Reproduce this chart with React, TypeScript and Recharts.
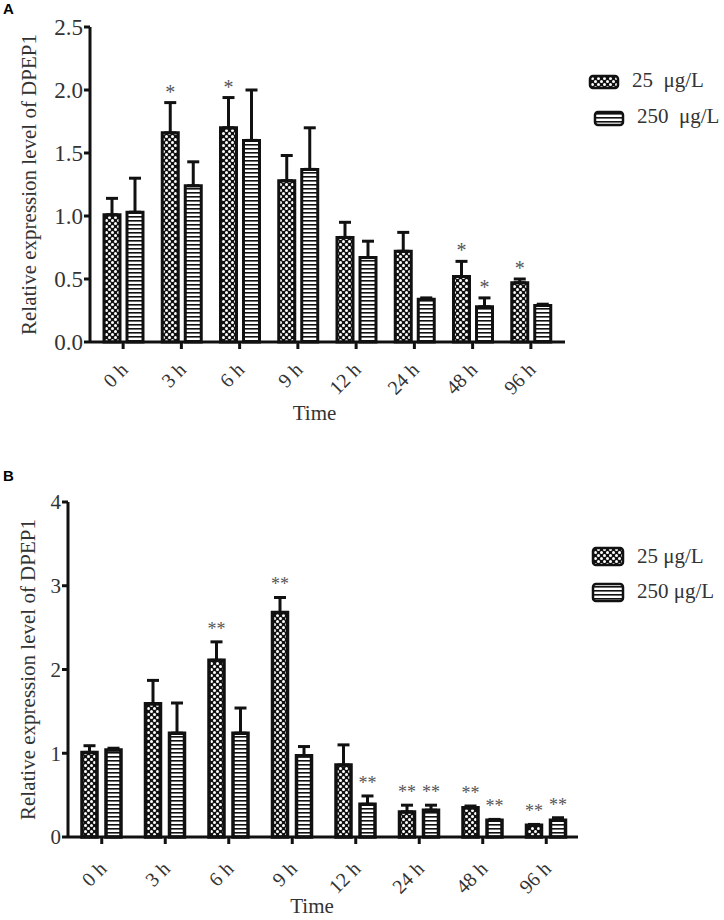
import { Bar, BarChart, ErrorBar, LabelList, XAxis, YAxis } from "recharts"

const timePoints = ["0 h", "3 h", "6 h", "9 h", "12 h", "24 h", "48 h", "96 h"]

// panel A
const aLow = [1.01, 1.66, 1.7, 1.28, 0.83, 0.72, 0.52, 0.47]
const aLowErr = [0.13, 0.24, 0.24, 0.2, 0.12, 0.15, 0.12, 0.03]
const aLowStars = ["", "*", "*", "", "", "", "*", "*"]
const aHigh = [1.03, 1.24, 1.6, 1.37, 0.67, 0.34, 0.28, 0.29]
const aHighErr = [0.27, 0.19, 0.4, 0.33, 0.13, 0.01, 0.07, 0.01]
const aHighStars = ["", "", "", "", "", "", "*", ""]
const aTicks = [0, 0.5, 1, 1.5, 2, 2.5]

// panel B
const bLow = [1.01, 1.59, 2.11, 2.68, 0.86, 0.3, 0.35, 0.14]
const bLowErr = [0.08, 0.28, 0.22, 0.18, 0.24, 0.08, 0.02, 0.01]
const bLowStars = ["", "", "**", "**", "", "**", "**", "**"]
const bHigh = [1.04, 1.24, 1.24, 0.97, 0.39, 0.32, 0.2, 0.2]
const bHighErr = [0.02, 0.36, 0.3, 0.11, 0.1, 0.06, 0.01, 0.03]
const bHighStars = ["", "", "", "", "**", "**", "**", "**"]
const bTicks = [0, 1, 2, 3, 4]

const SERIF = '"Liberation Serif", "Times New Roman", serif'
const INK = "#111"
const TEXT = "#333"

function rows(low: number[], lowErr: number[], lowStars: string[], high: number[], highErr: number[], highStars: string[]) {
  return timePoints.map((time, i) => ({
    time,
    low: low[i],
    lowErr: [0, lowErr[i]],
    lowStar: lowStars[i],
    high: high[i],
    highErr: [0, highErr[i]],
    highStar: highStars[i],
  }))
}

const aData = rows(aLow, aLowErr, aLowStars, aHigh, aHighErr, aHighStars)
const bData = rows(bLow, bLowErr, bLowStars, bHigh, bHighErr, bHighStars)

// star sits above the error cap; cap height derived from the bar's own px/value ratio
function starLabel(vals: number[], errs: number[], lift: number, fontSize: number) {
  return (props: any) => {
    const vb = props.viewBox ?? props
    const { x, y, width, height } = vb
    const i = props.index
    if (!props.value || i == null) return null
    const errPx = (errs[i] / vals[i]) * Math.abs(height)
    return (
      <text
        x={x + width / 2}
        y={Math.min(y, y + height) - errPx - lift}
        textAnchor="middle"
        fontFamily={SERIF}
        fontSize={fontSize}
        fill="#555"
      >
        {props.value}
      </text>
    )
  }
}

function AngledTick({ x, y, payload, dx, dy, fontSize }: any) {
  return (
    <g transform={`translate(${x + dx},${y + dy})`}>
      <text textAnchor="end" transform="rotate(-45)" fontFamily={SERIF} fontSize={fontSize} fill={TEXT}>
        {payload.value}
      </text>
    </g>
  )
}

function Patterns() {
  return (
    <svg width={0} height={0} style={{ position: "absolute" }}>
      <defs>
        <pattern id="dots" width={6} height={6} patternUnits="userSpaceOnUse">
          <rect width={6} height={6} fill={INK} />
          <circle cx={1.5} cy={1.5} r={1.5} fill="#fff" />
          <circle cx={4.5} cy={4.5} r={1.5} fill="#fff" />
        </pattern>
        <pattern id="stripes" width={4} height={4} patternUnits="userSpaceOnUse">
          <rect width={4} height={4} fill="#fff" />
          <rect width={4} height={1.6} fill={INK} />
        </pattern>
      </defs>
    </svg>
  )
}

function LegendBox({ left, top, items }: { left: number; top: number; items: any[] }) {
  return (
    <svg width={139} height={85} style={{ position: "absolute", left, top }}>
      {items.map((it) => (
        <g key={it.label}>
          <rect x={it.x} y={it.y} width={it.w} height={it.h} rx={3} fill={it.fill} stroke={INK} strokeWidth={2.5} />
          <text x={it.tx} y={it.ty} fontFamily={SERIF} fontSize={21} fill={TEXT} style={{ whiteSpace: "pre" }}>
            {it.label}
          </text>
        </g>
      ))}
    </svg>
  )
}

function Panel({
  data, low, lowErr, high, highErr, ticks, domain, fmt, height, top, xHeight, right, yWidth, padLeft, padRight,
  barSize, barGap, stroke, tickFont, xTickDy, starLift, starFont, yLabelX, timeDx, timeDy,
}: any) {
  return (
    <BarChart
      width={724}
      height={height}
      data={data}
      margin={{ top, right, bottom: 0, left: 0 }}
      barSize={barSize}
      barGap={barGap}
    >
      <YAxis
        width={yWidth}
        domain={domain}
        ticks={ticks}
        interval={0}
        tickFormatter={fmt}
        stroke={INK}
        axisLine={{ stroke: INK, strokeWidth: 3 }}
        tickLine={{ stroke: INK, strokeWidth: 3 }}
        tickSize={6}
        tickMargin={1}
        tick={{ fontFamily: SERIF, fontSize: tickFont, fill: TEXT }}
        label={{
          content: (p: any) => {
            const vb = p.viewBox
            return (
              <text
                transform={`translate(${yLabelX},${vb.y + vb.height / 2}) rotate(-90)`}
                textAnchor="middle"
                fontFamily={SERIF}
                fontSize={21}
                fill={TEXT}
              >
                Relative expression level of DPEP1
              </text>
            )
          },
        }}
      />
      <XAxis
        dataKey="time"
        height={xHeight}
        padding={{ left: padLeft, right: padRight }}
        interval={0}
        axisLine={{ stroke: INK, strokeWidth: 3 }}
        tickLine={{ stroke: INK, strokeWidth: 3 }}
        tickSize={7}
        tickMargin={0}
        tick={<AngledTick dx={6} dy={xTickDy} fontSize={20} />}
        label={{
          content: (p: any) => {
            const vb = p.viewBox
            return (
              <text
                x={vb.x + vb.width / 2 + timeDx}
                y={vb.y + timeDy}
                textAnchor="middle"
                fontFamily={SERIF}
                fontSize={21}
                fill={TEXT}
              >
                Time
              </text>
            )
          },
        }}
      />
      <Bar dataKey="low" fill="url(#dots)" stroke={INK} strokeWidth={stroke} isAnimationActive={false}>
        <ErrorBar dataKey="lowErr" width={6} stroke={INK} strokeWidth={3} direction="y" />
        <LabelList dataKey="lowStar" content={starLabel(low, lowErr, starLift, starFont)} />
      </Bar>
      <Bar dataKey="high" fill="url(#stripes)" stroke={INK} strokeWidth={stroke} isAnimationActive={false}>
        <ErrorBar dataKey="highErr" width={6} stroke={INK} strokeWidth={3} direction="y" />
        <LabelList dataKey="highStar" content={starLabel(high, highErr, starLift, starFont)} />
      </Bar>
    </BarChart>
  )
}

export default function App() {
  return (
    <div style={{ position: "absolute", left: 0, top: 0, width: 724, height: 920, background: "#fff" }}>
      <Patterns />
      <div style={{ position: "absolute", left: 3, top: 0, fontFamily: '"Liberation Sans", Arial, sans-serif', fontWeight: 700, fontSize: 15 }}>
        A
      </div>
      <div style={{ position: "absolute", left: 3, top: 467, fontFamily: '"Liberation Sans", Arial, sans-serif', fontWeight: 700, fontSize: 15 }}>
        B
      </div>
      <div style={{ position: "absolute", left: 0, top: 0 }}>
        <Panel
          data={aData} low={aLow} lowErr={aLowErr} high={aHigh} highErr={aHighErr}
          ticks={aTicks} domain={[0, 2.5]} fmt={(v: number) => v.toFixed(1)}
          height={440} top={27} xHeight={98} right={159} yWidth={90} padLeft={4} padRight={5}
          barSize={16} barGap={7} stroke={3} tickFont={23} xTickDy={22}
          starLift={4} starFont={20} yLabelX={36} timeDx={-13} timeDy={78}
        />
      </div>
      <div style={{ position: "absolute", left: 0, top: 440 }}>
        <Panel
          data={bData} low={bLow} lowErr={bLowErr} high={bHigh} highErr={bHighErr}
          ticks={bTicks} domain={[0, 4]} fmt={(v: number) => String(v)}
          height={480} top={62} xHeight={83} right={146} yWidth={68} padLeft={2} padRight={0}
          barSize={15} barGap={9} stroke={3.5} tickFont={21} xTickDy={26}
          starLift={7} starFont={18} yLabelX={35} timeDx={-11} timeDy={76}
        />
      </div>
      <LegendBox
        left={585}
        top={65}
        items={[
          { x: 5, y: 11, w: 28, h: 12, fill: "url(#dots)", tx: 47, ty: 22, label: "25  μg/L" },
          { x: 10, y: 47, w: 28, h: 13, fill: "url(#stripes)", tx: 52, ty: 58, label: "250  μg/L" },
        ]}
      />
      <LegendBox
        left={585}
        top={530}
        items={[
          { x: 8, y: 18, w: 30, h: 17, fill: "url(#dots)", tx: 52, ty: 33, label: "25 μg/L" },
          { x: 8, y: 54, w: 30, h: 17, fill: "url(#stripes)", tx: 52, ty: 68, label: "250 μg/L" },
        ]}
      />
    </div>
  )
}
